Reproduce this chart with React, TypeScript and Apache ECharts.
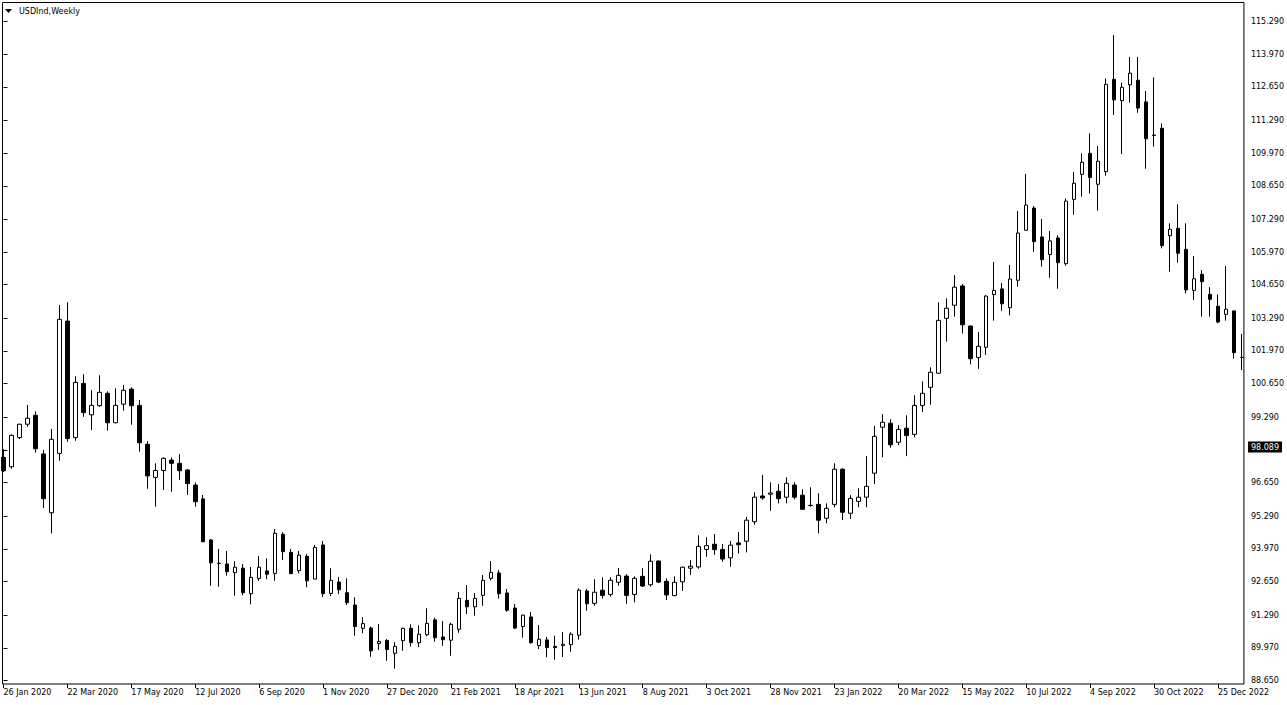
import React, { useEffect, useRef } from 'react';
import * as echarts from 'echarts';

const OPEN = [
  97.67, 97.29, 98.47, 99.01, 99.37, 97.81, 95.43, 97.83, 103.18, 98.47,
  100.66, 99.39, 99.76, 100.26, 99.07, 99.82, 100.43, 99.77, 98.20, 96.86,
  97.14, 97.56, 97.43, 97.16, 96.55, 95.99, 94.33, 93.39, 93.36, 93.01,
  93.19, 92.16, 92.77, 93.08, 92.98, 94.56, 93.83, 93.09, 93.67, 92.75,
  94.13, 92.17, 92.63, 92.20, 91.70, 90.76, 90.77, 90.14, 90.27, 89.75,
  90.26, 90.76, 90.18, 90.50, 91.10, 90.41, 90.28, 90.72, 91.89, 91.63,
  92.09, 92.78, 93.00, 92.19, 91.58, 90.83, 91.22, 90.06, 90.29, 90.03,
  90.06, 90.10, 90.48, 92.27, 91.77, 92.30, 92.13, 92.62, 92.87, 92.13,
  92.86, 92.52, 93.48, 92.66, 92.08, 92.64, 93.19, 93.24, 93.95, 94.16,
  93.95, 93.61, 94.21, 94.28, 95.07, 96.11, 96.18, 96.30, 96.06, 96.55,
  96.14, 95.73, 95.77, 95.21, 95.77, 97.19, 95.41, 95.89, 96.06, 97.03,
  98.89, 99.05, 98.28, 98.85, 98.60, 99.77, 100.50, 101.07, 103.29, 103.82,
  104.60, 102.98, 101.71, 102.12, 104.25, 104.48, 103.72, 104.83, 106.85, 107.75,
  106.58, 105.87, 106.54, 105.50, 108.10, 109.11, 109.96, 108.71, 109.22, 112.95,
  112.09, 112.73, 112.92, 112.04, 110.70, 110.97, 106.63, 106.93, 106.08, 104.42,
  105.07, 104.26, 103.78, 103.45, 103.59, 101.71,
];
const CLOSE = [
  97.13, 98.56, 99.01, 99.25, 98.02, 96.00, 98.40, 103.25, 98.43, 100.70,
  99.48, 99.77, 100.30, 99.07, 99.77, 100.38, 99.76, 98.26, 96.92, 97.14,
  97.63, 97.43, 97.13, 96.61, 95.88, 94.26, 93.41, 93.38, 93.05, 93.23,
  92.20, 92.82, 93.23, 92.95, 94.60, 93.86, 92.97, 93.72, 92.68, 94.03,
  92.16, 92.70, 92.32, 91.80, 90.83, 90.95, 89.85, 90.23, 89.90, 90.03,
  90.76, 90.18, 90.52, 90.96, 90.38, 90.30, 90.92, 91.97, 91.63, 91.97,
  92.70, 93.02, 92.16, 91.49, 90.77, 91.29, 90.18, 90.32, 89.98, 89.98,
  90.12, 90.52, 92.30, 91.75, 92.22, 92.09, 92.70, 92.90, 92.09, 92.78,
  92.47, 93.47, 92.63, 92.11, 92.62, 93.23, 93.27, 94.07, 94.10, 93.94,
  93.56, 94.12, 94.14, 95.13, 96.06, 96.03, 96.23, 96.00, 96.62, 96.06,
  95.57, 95.72, 95.13, 95.61, 97.19, 95.45, 96.01, 96.06, 96.50, 98.52,
  99.09, 98.18, 98.80, 98.55, 99.77, 100.26, 101.11, 103.21, 103.70, 104.55,
  103.03, 101.66, 102.16, 104.19, 104.42, 103.88, 104.88, 106.74, 107.87, 106.39,
  105.66, 106.42, 105.54, 108.03, 108.75, 109.60, 108.98, 109.64, 112.75, 112.12,
  112.63, 113.20, 111.79, 110.55, 110.68, 106.23, 106.89, 105.92, 104.44, 104.89,
  104.77, 104.06, 103.14, 103.66, 101.90, 101.71,
];
const LOW = [
  97.08, 97.21, 98.41, 98.91, 97.86, 95.62, 94.60, 97.54, 98.30, 98.34,
  99.31, 98.78, 99.71, 98.75, 99.05, 99.56, 98.99, 97.90, 96.40, 95.68,
  96.35, 96.28, 96.76, 96.15, 95.68, 94.24, 92.48, 92.44, 92.89, 92.08,
  92.10, 91.73, 92.68, 92.74, 92.68, 93.52, 92.95, 92.98, 92.42, 92.74,
  92.02, 92.06, 92.14, 91.70, 90.46, 90.56, 89.61, 89.88, 89.45, 89.13,
  89.85, 90.02, 90.00, 90.44, 90.22, 90.05, 89.65, 90.58, 91.34, 91.27,
  91.67, 92.70, 91.96, 91.43, 90.73, 90.38, 90.14, 89.92, 89.59, 89.49,
  89.60, 89.81, 90.30, 91.47, 91.67, 91.96, 92.04, 92.48, 91.75, 91.81,
  92.43, 92.44, 92.59, 91.90, 92.06, 92.27, 92.91, 93.17, 93.65, 93.73,
  93.45, 93.25, 93.78, 93.83, 94.95, 95.96, 95.51, 95.81, 95.81, 95.97,
  95.55, 95.68, 94.60, 95.00, 95.65, 95.14, 95.18, 95.65, 95.65, 96.59,
  97.67, 98.06, 98.16, 97.72, 98.48, 99.50, 99.80, 101.05, 102.35, 103.36,
  102.68, 101.43, 101.25, 101.81, 103.20, 103.60, 103.41, 104.57, 106.83, 105.98,
  105.38, 104.93, 104.49, 105.42, 107.48, 108.21, 108.33, 107.64, 109.06, 111.51,
  109.93, 112.01, 111.60, 109.34, 110.23, 106.12, 105.18, 105.54, 104.30, 104.03,
  103.36, 103.36, 103.09, 103.20, 101.67, 101.20,
];
const HIGH = [
  98.00, 98.60, 99.03, 99.79, 99.53, 97.97, 98.82, 103.83, 103.94, 100.95,
  101.03, 100.39, 100.99, 100.34, 100.46, 100.60, 100.50, 99.99, 98.33, 97.43,
  97.67, 97.67, 97.81, 97.20, 96.66, 96.15, 94.37, 93.97, 93.88, 93.48,
  93.36, 93.24, 93.68, 93.59, 94.77, 94.64, 93.97, 93.88, 93.76, 94.13,
  94.29, 93.19, 92.84, 92.78, 92.01, 91.21, 90.83, 90.93, 90.32, 90.20,
  90.78, 90.92, 90.88, 91.57, 91.19, 91.05, 90.99, 92.23, 92.51, 92.19,
  92.91, 93.48, 93.12, 92.35, 91.74, 91.31, 91.42, 90.89, 90.41, 90.46,
  90.61, 90.60, 92.38, 92.35, 92.74, 92.82, 92.82, 93.20, 92.95, 92.86,
  93.19, 93.75, 93.50, 92.78, 92.86, 93.25, 93.52, 94.52, 94.44, 94.57,
  94.17, 94.29, 94.65, 95.26, 96.26, 96.96, 96.66, 96.59, 96.86, 96.66,
  96.38, 96.46, 96.22, 95.81, 97.43, 97.23, 96.14, 96.42, 97.72, 98.94,
  99.42, 99.21, 98.97, 99.37, 100.18, 100.74, 101.31, 103.94, 104.10, 105.04,
  104.68, 103.00, 102.74, 104.23, 105.57, 104.72, 105.45, 107.63, 109.13, 107.83,
  107.31, 106.82, 106.65, 108.14, 109.21, 109.96, 110.77, 110.26, 112.99, 114.74,
  112.82, 113.86, 113.86, 112.48, 113.03, 111.17, 107.13, 107.90, 107.13, 105.81,
  105.24, 104.55, 104.26, 105.41, 103.60, 102.66,
];

const DATE_LABELS = [
  '26 Jan 2020', '22 Mar 2020', '17 May 2020', '12 Jul 2020', '6 Sep 2020',
  '1 Nov 2020', '27 Dec 2020', '21 Feb 2021', '18 Apr 2021', '13 Jun 2021',
  '8 Aug 2021', '3 Oct 2021', '28 Nov 2021', '23 Jan 2022', '20 Mar 2022',
  '15 May 2022', '10 Jul 2022', '4 Sep 2022', '30 Oct 2022', '25 Dec 2022',
];
const LABEL_STEP = 8; // one date label every 8 weekly bars

const PRICE_TICKS = [
  88.65, 89.97, 91.29, 92.65, 93.97, 95.29, 96.65, 97.97, 99.29, 100.65,
  101.97, 103.29, 104.65, 105.97, 107.29, 108.65, 109.97, 111.29, 112.65, 113.97, 115.29,
];

const LAST_PRICE = 98.089;
const TITLE = 'USDInd,Weekly';

const FONT = '"DejaVu Sans", Verdana, sans-serif';

export default function App() {
  const ref = useRef<HTMLDivElement>(null);

  useEffect(() => {
    const el = ref.current;
    if (!el) return;
    const chart = echarts.init(el, null, { renderer: 'svg' });
    const data = OPEN.map((o, i) => [i, o, CLOSE[i], LOW[i], HIGH[i]]);
    const dateTicks = DATE_LABELS.map((_, k) => k * LABEL_STEP);

    chart.setOption({
      animation: false,
      backgroundColor: '#ffffff',
      grid: {
        left: 2.5,
        top: 2.5,
        width: 1243,
        height: 681.5,
        show: true,
        borderColor: '#000000',
        borderWidth: 1,
        backgroundColor: '#ffffff',
      },
      xAxis: {
        type: 'value',
        min: -0.125,
        max: 155.25,
        axisLine: { show: false },
        splitLine: { show: false },
        axisTick: {
          show: true,
          customValues: dateTicks,
          length: 4,
          lineStyle: { color: '#000000', width: 1 },
        },
        axisLabel: {
          show: true,
          customValues: dateTicks,
          formatter: (v: number) => DATE_LABELS[Math.round(v / LABEL_STEP)] ?? '',
          align: 'left',
          margin: 4,
          color: '#000000',
          fontFamily: FONT,
          fontSize: 8,
        },
      },
      yAxis: {
        type: 'value',
        position: 'right',
        min: 88.5085,
        max: 116.058,
        axisLine: { show: false },
        splitLine: { show: false },
        axisTick: {
          show: true,
          customValues: PRICE_TICKS,
          length: 4,
          lineStyle: { color: '#000000', width: 1 },
        },
        axisLabel: {
          show: true,
          customValues: PRICE_TICKS,
          formatter: (v: number) => v.toFixed(3),
          margin: 7,
          color: '#000000',
          fontFamily: FONT,
          fontSize: 8,
        },
      },
      series: [
        {
          type: 'candlestick',
          data,
          barWidth: 4,
          clip: true,
          itemStyle: {
            color: '#ffffff',
            color0: '#000000',
            borderColor: '#000000',
            borderColor0: '#000000',
            borderColorDoji: '#000000',
            borderWidth: 1,
          },
        },
      ],
    });

    const py = chart.convertToPixel({ yAxisIndex: 0 }, LAST_PRICE) as number;

    chart.setOption({
      graphic: [
        {
          type: 'polygon',
          z: 100,
          shape: { points: [[5, 9], [12, 9], [8.5, 13]] },
          style: { fill: '#000000' },
        },
        {
          type: 'text',
          z: 100,
          x: 19,
          y: 11,
          style: {
            text: TITLE,
            fill: '#000000',
            font: `8px ${FONT}`,
            verticalAlign: 'middle',
            align: 'left',
          },
        },
        {
          type: 'text',
          z: 100,
          x: 1248,
          y: py,
          style: {
            text: LAST_PRICE.toFixed(3),
            fill: '#ffffff',
            font: `8px ${FONT}`,
            verticalAlign: 'middle',
            align: 'left',
            backgroundColor: '#000000',
            padding: [2, 3, 1, 3],
          },
        },
      ],
    });

    return () => {
      chart.dispose();
    };
  }, []);

  return (
    <div
      ref={ref}
      style={{ position: 'fixed', left: 0, top: 0, width: 1287, height: 705, background: '#fff' }}
    />
  );
}
